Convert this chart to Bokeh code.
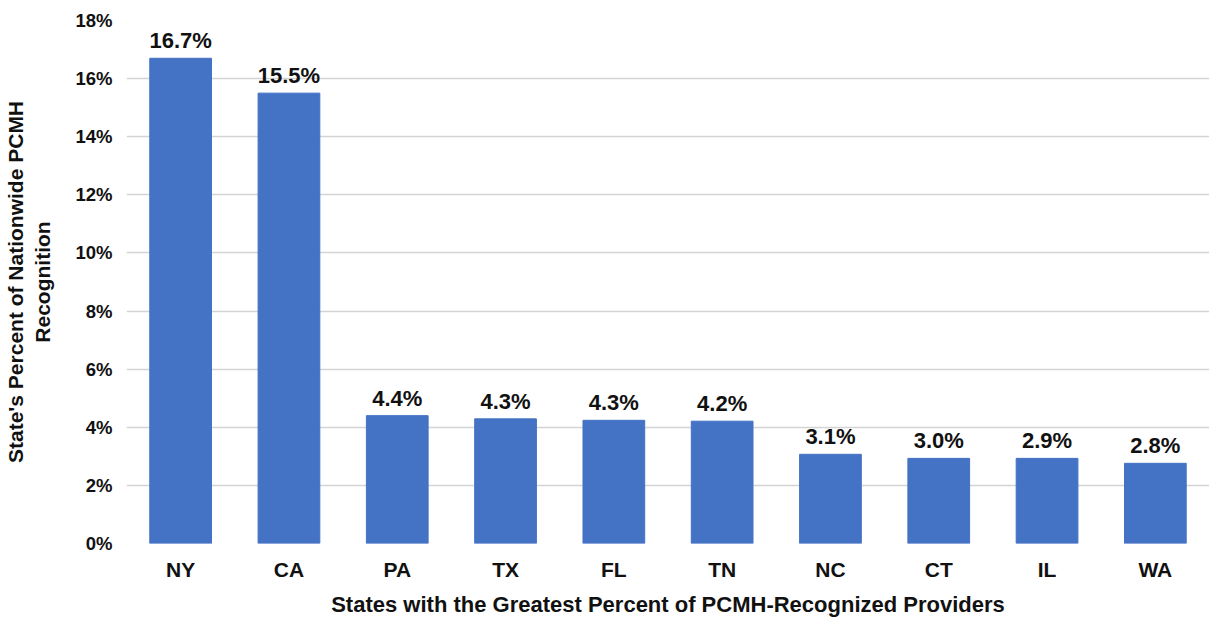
from bokeh.plotting import figure
from bokeh.models import ColumnDataSource, NumeralTickFormatter, FixedTicker, Range1d, LabelSet
from bokeh.core.properties import value
from bokeh.embed import file_html
from bokeh.resources import INLINE

states = ["NY", "CA", "PA", "TX", "FL", "TN", "NC", "CT", "IL", "WA"]
percent = [16.7, 15.5, 4.4, 4.29, 4.24, 4.21, 3.07, 2.93, 2.93, 2.76]
labels = ["16.7%", "15.5%", "4.4%", "4.3%", "4.3%", "4.2%", "3.1%", "3.0%", "2.9%", "2.8%"]
y_ticks = [0, 2, 4, 6, 8, 10, 12, 14, 16, 18]

src = ColumnDataSource(dict(state=states, pct=[v / 100 for v in percent], label=labels))

FONT = "Liberation Sans"

p = figure(x_range=states, y_range=Range1d(0, 0.18), width=1209, height=619,
           output_backend="svg", toolbar_location=None,
           min_border_left=118, min_border_right=0, min_border_top=20, min_border_bottom=0)
p.outline_line_color = None

p.vbar(x="state", top="pct", width=0.57, source=src, fill_color="#4472C4", line_color="#4472C4")

p.add_layout(LabelSet(x="state", y="pct", text="label", source=src, text_align="center",
                      text_baseline="bottom", y_offset=5, text_font=value(FONT),
                      text_font_style="bold", text_font_size="22px", text_color="#111111"))

p.yaxis.ticker = FixedTicker(ticks=[t / 100 for t in y_ticks])
p.yaxis.formatter = NumeralTickFormatter(format="0%")
for ax in (p.xaxis[0], p.yaxis[0]):
    ax.axis_line_color = None
    ax.major_tick_line_color = None
    ax.minor_tick_line_color = None
    ax.major_tick_out = 0
    ax.major_tick_in = 0
    ax.major_label_text_font = FONT
    ax.major_label_text_font_style = "bold"
    ax.major_label_text_color = "#111111"
    ax.axis_label_text_font = FONT
    ax.axis_label_text_font_style = "bold"
    ax.axis_label_text_color = "#111111"

p.yaxis.major_label_text_font_size = "18.5px"
p.yaxis.major_label_standoff = 14
p.yaxis.axis_label = "State's Percent of Nationwide PCMH\nRecognition"
p.yaxis.axis_label_text_font_size = "21px"
p.yaxis.axis_label_standoff = 18

p.xaxis.major_label_text_font_size = "21px"
p.xaxis.major_label_standoff = 14
p.xaxis.axis_label = "States with the Greatest Percent of PCMH-Recognized Providers"
p.xaxis.axis_label_text_font_size = "22px"
p.xaxis.axis_label_standoff = 8

p.xgrid.grid_line_color = None
p.ygrid.grid_line_color = "#D4D4D4"
p.ygrid.grid_line_width = 1.5

open("out.html", "w").write(file_html(p, INLINE))
